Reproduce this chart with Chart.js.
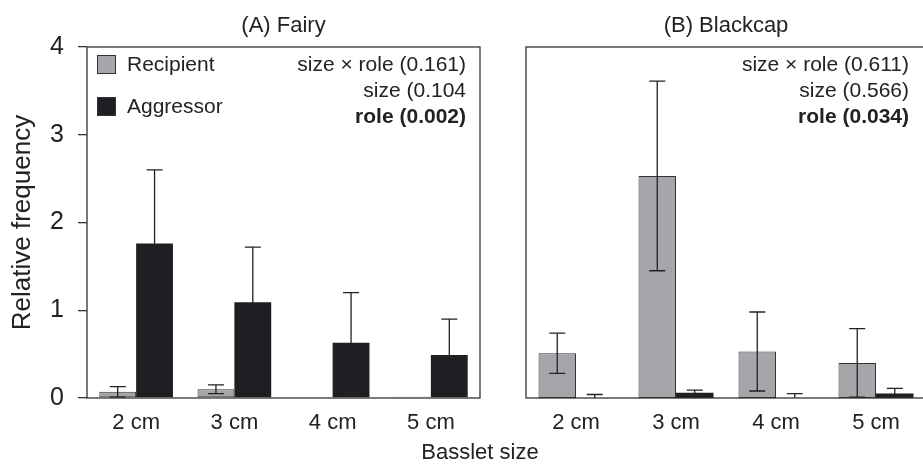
<!DOCTYPE html>
<html>
<head>
<meta charset="utf-8">
<script src="https://cdn.jsdelivr.net/npm/chart.js@4.4.1/dist/chart.umd.min.js"></script>
<style>
    html, body { margin: 0; padding: 0; background: #fff; overflow: hidden; width: 923px; height: 465px; }
    .wrap { position: absolute; top: 0; height: 465px; }
    #wrapA { left: 0; width: 490px; }
    #wrapB { left: 490px; width: 440px; }
    #xtitle {
        position: absolute; left: 0; width: 960px; top: 439px; line-height: 24px;
        text-align: center; color: #222;
        font: 22px "Liberation Sans", Arial, Helvetica, sans-serif;
    }
</style>
</head>
<body>
<div class="wrap" id="wrapA"><canvas id="fairy" width="490" height="465"></canvas></div>
<div class="wrap" id="wrapB"><canvas id="blackcap" width="440" height="465"></canvas></div>
<div id="xtitle">Basslet size</div>
<script>
const FONT = '"Liberation Sans", Arial, Helvetica, sans-serif';
const GRAY = "#a6a5aa";
const BLACK = "#1e1f22";
const INK = "#222";

const categories = ["2 cm", "3 cm", "4 cm", "5 cm"];

// (A) Fairy
const fairyRecipient = [0.07, 0.10, 0, 0.015];
const fairyRecipientErr = [0.06, 0.05, 0, 0];
const fairyAggressor = [1.76, 1.09, 0.63, 0.49];
const fairyAggressorErr = [0.84, 0.63, 0.57, 0.41];

// (B) Blackcap
const blackcapRecipient = [0.51, 2.53, 0.53, 0.40];
const blackcapRecipientErr = [0.23, 1.08, 0.45, 0.39];
const blackcapAggressor = [0, 0.06, 0, 0.05];
const blackcapAggressorErr = [0.04, 0.03, 0.05, 0.06];

const yTicks = [0, 1, 2, 3, 4];

const fairyStats = [["size \u00d7 role (0.161)", false], ["size (0.104", false], ["role (0.002)", true]];
const blackcapStats = [["size \u00d7 role (0.611)", false], ["size (0.566)", false], ["role (0.034)", true]];

// 오차 막대, 테두리, 범례, 통계 문구
const panelPlugin = {
    id: "panel",
    afterDatasetsDraw(chart) {
        const ctx = chart.ctx;
        const a = chart.chartArea;
        const y = chart.scales.y;
        ctx.save();
        ctx.beginPath();
        ctx.rect(a.left, a.top, a.right - a.left, a.bottom - a.top);
        ctx.clip();
        ctx.strokeStyle = INK;
        ctx.lineWidth = 1.3;
        chart.data.datasets.forEach((ds, i) => {
            chart.getDatasetMeta(i).data.forEach((bar, j) => {
                const err = ds.errors[j];
                if (!err) return;
                const yTop = y.getPixelForValue(ds.data[j] + err);
                const yBot = y.getPixelForValue(ds.data[j] - err);
                ctx.beginPath();
                ctx.moveTo(bar.x, yTop); ctx.lineTo(bar.x, yBot);
                ctx.moveTo(bar.x - 8, yTop); ctx.lineTo(bar.x + 8, yTop);
                ctx.moveTo(bar.x - 8, yBot); ctx.lineTo(bar.x + 8, yBot);
                ctx.stroke();
            });
        });
        ctx.restore();
    },
    afterDraw(chart, args, opts) {
        const ctx = chart.ctx;
        const a = chart.chartArea;
        ctx.save();
        ctx.strokeStyle = "#333";
        ctx.lineWidth = 1.3;
        ctx.strokeRect(a.left, a.top, a.right - a.left, a.bottom - a.top);

        if (opts.legend) {
            ctx.font = "21px " + FONT;
            ctx.textBaseline = "middle";
            ctx.textAlign = "left";
            chart.data.datasets.forEach((ds, i) => {
                const top = a.top + 8 + i * 42;
                ctx.fillStyle = ds.backgroundColor;
                ctx.fillRect(a.left + 10, top, 19, 19);
                ctx.lineWidth = 1;
                ctx.strokeStyle = "#333";
                ctx.strokeRect(a.left + 10.5, top + 0.5, 18, 18);
                ctx.fillStyle = INK;
                ctx.fillText(ds.label, a.left + 40, top + 10);
            });
        }

        ctx.textAlign = "right";
        ctx.textBaseline = "middle";
        ctx.fillStyle = INK;
        (opts.stats || []).forEach(([text, bold], i) => {
            ctx.font = (bold ? "bold " : "") + "21px " + FONT;
            ctx.fillText(text, opts.statsRight, a.top + 18 + i * 26);
        });
        ctx.restore();
    }
};

function createPanel(canvas, title, recipient, recipientErr, aggressor, aggressorErr, stats, showAxis, padding, statsRight) {
    return new Chart(canvas, {
        type: "bar",
        data: {
            labels: categories,
            datasets: [
                { label: "Recipient", data: recipient, errors: recipientErr, backgroundColor: GRAY, borderColor: "#333", borderWidth: 1, borderSkipped: false },
                { label: "Aggressor", data: aggressor, errors: aggressorErr, backgroundColor: BLACK, borderColor: BLACK, borderWidth: 0 }
            ]
        },
        options: {
            responsive: false,
            animation: false,
            layout: { padding: padding },
            categoryPercentage: 0.75,
            barPercentage: 1.0,
            plugins: {
                legend: { display: false },
                tooltip: { enabled: false },
                title: {
                    display: true, text: title, fullSize: false, color: INK,
                    font: { family: FONT, size: 22, weight: "normal" },
                    padding: { top: 13, bottom: 7.6 }
                },
                panel: { legend: showAxis, stats: stats, statsRight: statsRight }
            },
            scales: {
                x: {
                    grid: { display: false, drawTicks: false },
                    border: { display: false },
                    ticks: { color: INK, font: { family: FONT, size: 22 }, padding: 12 },
                    afterFit: (s) => { s.height = 67; }
                },
                y: {
                    display: showAxis,
                    min: 0, max: 4,
                    afterBuildTicks: (s) => { s.ticks = yTicks.map(v => ({ value: v })); },
                    grid: { drawOnChartArea: false, drawTicks: true, tickLength: 9, color: "#333", lineWidth: 1.3 },
                    border: { display: false },
                    ticks: { color: INK, font: { family: FONT, size: 25 }, padding: 14 },
                    title: {
                        display: true, text: "Relative frequency", color: INK,
                        font: { family: FONT, size: 26 }, padding: { top: 7, bottom: 0 }
                    },
                    afterFit: (s) => { s.width = showAxis ? 87 : 0; }
                }
            }
        },
        plugins: [panelPlugin]
    });
}

createPanel(document.getElementById("fairy"), "(A) Fairy",
    fairyRecipient, fairyRecipientErr, fairyAggressor, fairyAggressorErr,
    fairyStats, true, { left: 0, top: 0, right: 10, bottom: 0 }, 466);

createPanel(document.getElementById("blackcap"), "(B) Blackcap",
    blackcapRecipient, blackcapRecipientErr, blackcapAggressor, blackcapAggressorErr,
    blackcapStats, false, { left: 36, top: 0, right: 4, bottom: 0 }, 419);
</script>
</body>
</html>
